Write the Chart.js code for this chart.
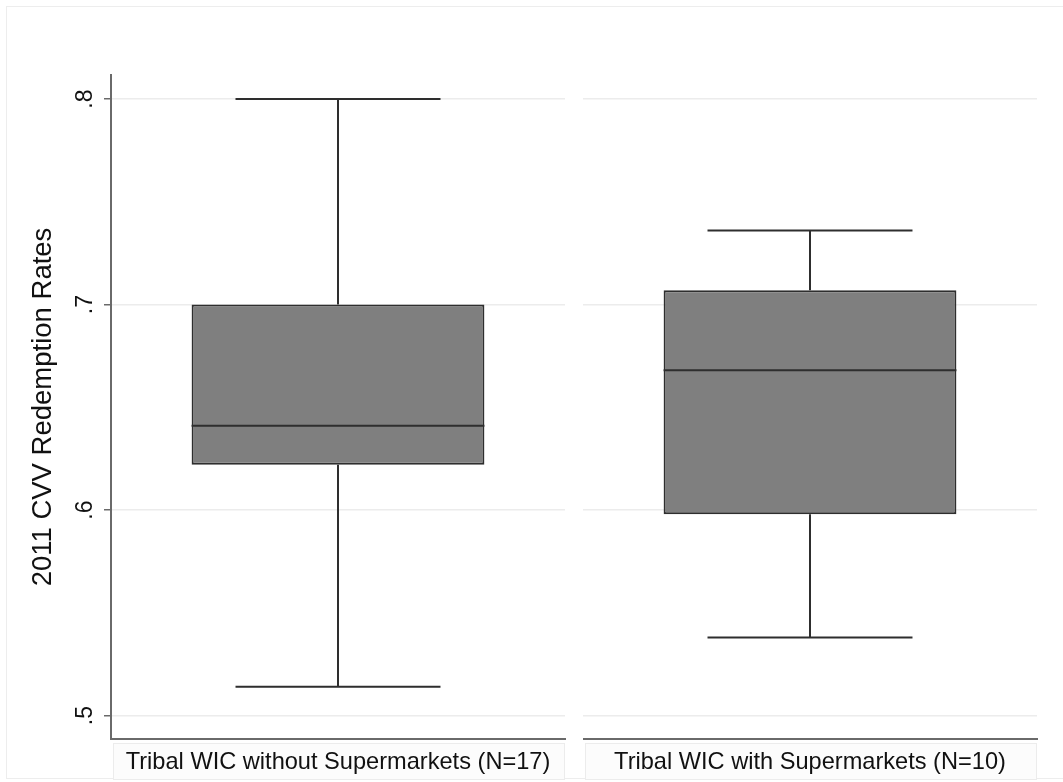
<!DOCTYPE html>
<html>
<head>
<meta charset="utf-8">
<script src="https://cdn.jsdelivr.net/npm/chart.js@4.4.0/dist/chart.umd.min.js"></script>
<style>
  html, body { margin: 0; padding: 0; background: #fff; }
  #page { position: relative; width: 1063px; height: 782px; overflow: hidden; }
  #frame { position: absolute; left: 6px; top: 6px; width: 1070px; height: 773px; border: 1px solid #ededed; box-sizing: border-box; }
  .panel { position: absolute; top: 0; }
  #left { left: 0; }
  #right { left: 583px; }
</style>
</head>
<body>
<div id="page">
  <div id="frame"></div>
  <div class="panel" id="left"><canvas id="c0" width="566" height="782"></canvas></div>
  <div class="panel" id="right"><canvas id="c1" width="457" height="782"></canvas></div>
</div>
<script>
// box plot statistics
const groups = ['Tribal WIC without Supermarkets (N=17)', 'Tribal WIC with Supermarkets (N=10)'];
const whiskerLow = [0.514, 0.538];
const q1 = [0.622, 0.598];
const median = [0.641, 0.668];
const q3 = [0.700, 0.707];
const whiskerHigh = [0.800, 0.736];
const yTicks = [0.5, 0.6, 0.7, 0.8];
const yTitle = '2011 CVV Redemption Rates';

const FONT = '"Liberation Sans", Arial, Helvetica, sans-serif';
const DARK = '#2e2e2e';
const AXIS = '#6a6a6a';

// whiskers, caps, median and the label box under each panel
const boxParts = {
  id: 'boxParts',
  beforeDraw(chart) {
    const { ctx, chartArea: a } = chart;
    ctx.save();
    ctx.fillStyle = '#fcfcfc';
    ctx.strokeStyle = '#ececec';
    ctx.lineWidth = 1;
    ctx.fillRect(a.left + 2, a.bottom + 4, a.right - a.left - 2, 36);
    ctx.strokeRect(a.left + 2.5, a.bottom + 4.5, a.right - a.left - 3, 36);
    ctx.restore();
  },
  afterDatasetsDraw(chart, args, opts) {
    const i = opts.group;
    const { ctx } = chart;
    const y = chart.scales.y;
    const bar = chart.getDatasetMeta(0).data[0];
    const cx = bar.x, half = bar.width / 2, capHalf = half * 0.7;
    ctx.save();
    ctx.strokeStyle = DARK;
    ctx.lineWidth = 2;
    ctx.beginPath();
    // upper whisker + cap
    ctx.moveTo(cx, y.getPixelForValue(q3[i]));
    ctx.lineTo(cx, y.getPixelForValue(whiskerHigh[i]));
    ctx.moveTo(cx - capHalf, y.getPixelForValue(whiskerHigh[i]));
    ctx.lineTo(cx + capHalf, y.getPixelForValue(whiskerHigh[i]));
    // lower whisker + cap
    ctx.moveTo(cx, y.getPixelForValue(q1[i]));
    ctx.lineTo(cx, y.getPixelForValue(whiskerLow[i]));
    ctx.moveTo(cx - capHalf, y.getPixelForValue(whiskerLow[i]));
    ctx.lineTo(cx + capHalf, y.getPixelForValue(whiskerLow[i]));
    // median
    ctx.moveTo(cx - half, y.getPixelForValue(median[i]));
    ctx.lineTo(cx + half, y.getPixelForValue(median[i]));
    ctx.stroke();
    ctx.restore();
  }
};

const makeConfig = (i) => {
  const first = i === 0;
  return {
    type: 'bar',
    data: {
      labels: [groups[i]],
      datasets: [{
        data: [[q1[i], q3[i]]],
        backgroundColor: '#7f7f7f',
        borderColor: DARK,
        borderWidth: 2,
        borderSkipped: false,
        barPercentage: 0.645,
        categoryPercentage: 1
      }]
    },
    options: {
      responsive: false,
      animation: false,
      layout: { padding: { top: 75, bottom: 0, left: 0, right: first ? 1 : 3 } },
      plugins: {
        legend: { display: false },
        tooltip: { enabled: false },
        boxParts: { group: i }
      },
      scales: {
        x: {
          grid: { display: false, drawTicks: false },
          border: { color: AXIS, width: 2 },
          ticks: { color: '#111', font: { family: FONT, size: 23.6 }, padding: 9 },
          afterFit: (s) => { s.height = 43; }
        },
        y: {
          min: 0.4886,
          max: 0.8117,
          afterBuildTicks: (s) => { s.ticks = yTicks.map(v => ({ value: v })); },
          afterFit: (s) => { s.width = first ? 111 : 0; },
          grid: {
            color: '#ececec',
            lineWidth: 1.5,
            drawTicks: first,
            tickLength: 7,
            tickColor: AXIS,
            tickWidth: 1.5
          },
          border: { display: first, color: AXIS, width: 2 },
          ticks: {
            display: first,
            minRotation: 90,
            maxRotation: 90,
            crossAlign: 'center',
            padding: 9,
            color: '#111',
            font: { family: FONT, size: 23 },
            callback: (v) => String(v).replace(/^0/, '')
          },
          title: {
            display: first,
            text: yTitle,
            color: '#111',
            font: { family: FONT, size: 27.5 },
            padding: { top: 27, bottom: 0 }
          }
        }
      }
    },
    plugins: [boxParts]
  };
};

new Chart(document.getElementById('c0'), makeConfig(0));
new Chart(document.getElementById('c1'), makeConfig(1));
</script>
</body>
</html>
